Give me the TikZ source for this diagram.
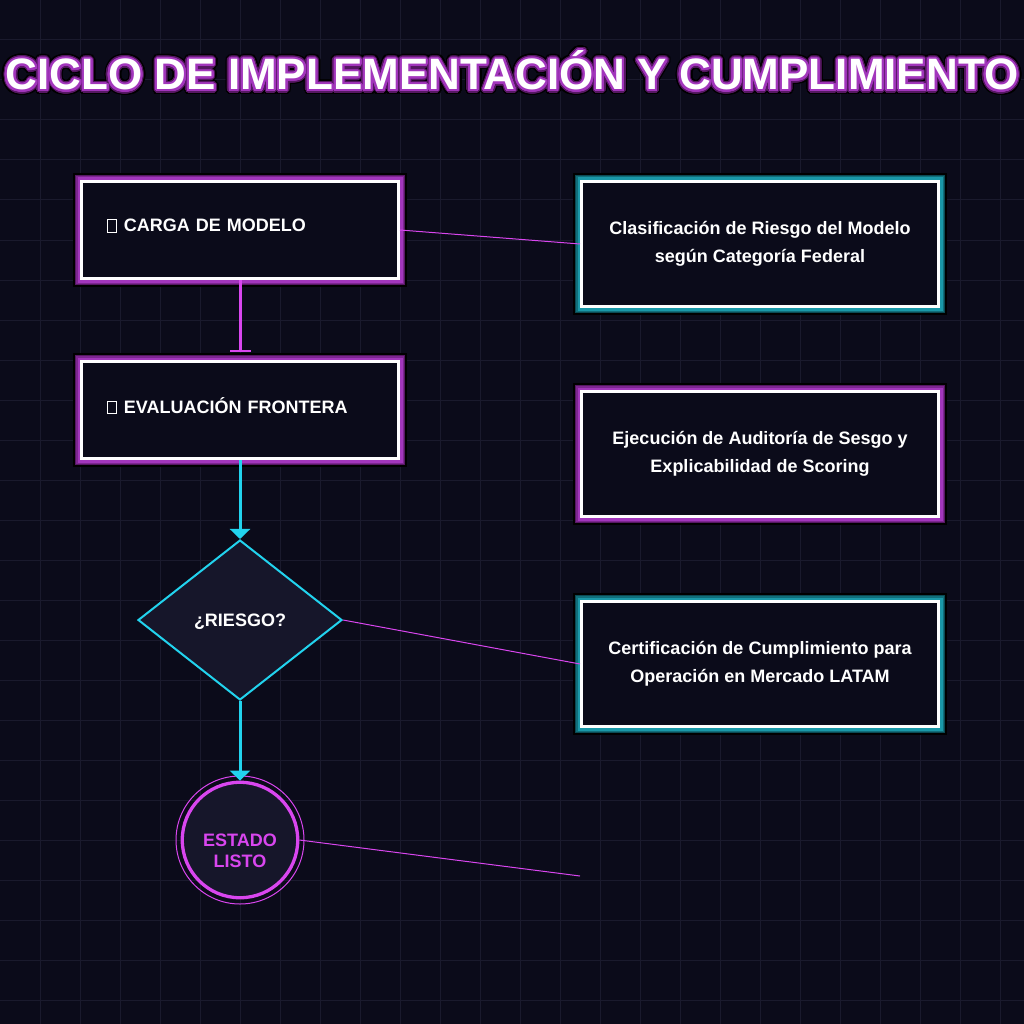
\documentclass[tikz,border=0pt]{standalone}
\usepackage{fontspec}
\setmainfont{Liberation Sans}
\usepackage{xcolor}
\usepackage{contour}
\usepackage{tikz}
\usetikzlibrary{shapes.geometric, arrows.meta}

\definecolor{bgnight}{HTML}{0B0B1A}
\definecolor{gridrule}{HTML}{1A1A2D}
\definecolor{cellfill}{HTML}{16162A}
\definecolor{neonpink}{HTML}{D946EF}
\definecolor{neoncyan}{HTML}{22D3EE}
\definecolor{pinkdeep}{HTML}{561863}
\definecolor{pinkmid}{HTML}{7C2690}
\definecolor{pinkglow}{HTML}{A236BC}
\definecolor{tealdeep}{HTML}{0B4A54}
\definecolor{tealmid}{HTML}{116E7A}
\definecolor{tealglow}{HTML}{1A98A8}

\contournumber{32}
\newcommand{\tofu}{{\fboxsep=0pt\fboxrule=0.7pt\fbox{\rule{0pt}{12pt}\hspace{8.5pt}}}\hspace{7pt}}
\newcommand{\neontitle}[1]{%
  \leavevmode\rlap{\contourlength{5pt}\contour{black}{\textcolor{black}{#1}}}%
  \rlap{\contourlength{3.5pt}\contour{pinkdeep}{\textcolor{pinkdeep}{#1}}}%
  \contourlength{2pt}\contour{pinkglow}{#1}}

\tikzset{
  stepcard/.style={rectangle, draw=white, line width=3pt, fill=bgnight,
    inner sep=0pt, text=white, font=\bfseries\fontsize{18}{28.5}\selectfont},
  purplehalo/.style={preaction={draw=black, line width=17pt},
    preaction={draw=pinkdeep, line width=13pt},
    preaction={draw=pinkmid, line width=10.5pt},
    preaction={draw=pinkglow, line width=8pt}},
  tealhalo/.style={preaction={draw=black, line width=17pt},
    preaction={draw=tealdeep, line width=13pt},
    preaction={draw=tealmid, line width=10.5pt},
    preaction={draw=tealglow, line width=8pt}},
  leftcard/.style={stepcard, purplehalo, minimum width=317pt, minimum height=97pt,
    text width=266pt, align=left, text depth=9pt},
  rightcard/.style={stepcard, minimum width=357pt, minimum height=125pt, align=center},
  decision/.style={diamond, draw=neoncyan, line width=2pt, fill=cellfill,
    minimum width=204pt, minimum height=160pt, inner sep=0pt, text=white, text depth=0pt,
    font=\bfseries\fontsize{18}{20}\selectfont},
  endstate/.style={circle, draw=neonpink, line width=3.3pt, fill=cellfill,
    minimum size=115.5pt, inner sep=0pt, text=neonpink, align=center,
    text height=54pt, text depth=0pt, font=\bfseries\fontsize{18}{20.5}\selectfont},
  flowline/.style={neoncyan, line width=3pt, -{Triangle[width=20pt, length=10pt]}},
  holdline/.style={neonpink, line width=3pt, -{Bar[width=21pt, line width=2pt]}},
  linkline/.style={neonpink, line width=1pt}
}

\begin{document}
\begin{tikzpicture}[x=1pt, y=-1pt]
  \useasboundingbox (0,0) rectangle (1024,1024);
  \fill[bgnight] (0,0) rectangle (1024,1024);
  \foreach \g in {40,80,...,1000} {
    \draw[gridrule, line width=1pt] (\g,0) -- (\g,1024);
    \draw[gridrule, line width=1pt] (0,\g) -- (1024,\g);
  }

  % title
  \node[anchor=base, text=white, font=\bfseries\fontsize{44}{48}\selectfont] (title)
    at (512,90) {\neontitle{CICLO DE IMPLEMENTACIÓN Y CUMPLIMIENTO}};

  % flow column
  \node[leftcard] (carga) at (240,230) {\tofu CARGA DE MODELO};
  \node[leftcard] (evaluacion) at (240,410) {\tofu EVALUACIÓN FRONTERA};
  \node[decision] (riesgo) at (240,620) {¿RIESGO?};
  \node[endstate] (listo) at (240,840) {ESTADO\\LISTO};

  % detail column
  \node[rightcard, tealhalo] (clasif) at (760,244)
    {Clasificación de Riesgo del Modelo\\según Categoría Federal};
  \node[rightcard, purplehalo] (auditoria) at (760,454)
    {Ejecución de Auditoría de Sesgo y\\Explicabilidad de Scoring};
  \node[rightcard, tealhalo] (certif) at (760,664)
    {Certificación de Cumplimiento para\\Operación en Mercado LATAM};
  \coordinate (cierre) at (580,876);

  \draw[neonpink, line width=1pt] (listo.center) circle[radius=64];

  \draw[holdline, shorten >=8.5pt] (carga) -- (evaluacion);
  \draw[flowline] (evaluacion) -- (riesgo);
  \draw[flowline] (riesgo) -- (listo);

  \draw[linkline] (carga.east) -- (clasif.west);
  \draw[linkline] (riesgo.east) -- (certif.west);
  \draw[linkline] (listo.east) -- (cierre);
\end{tikzpicture}
\end{document}
